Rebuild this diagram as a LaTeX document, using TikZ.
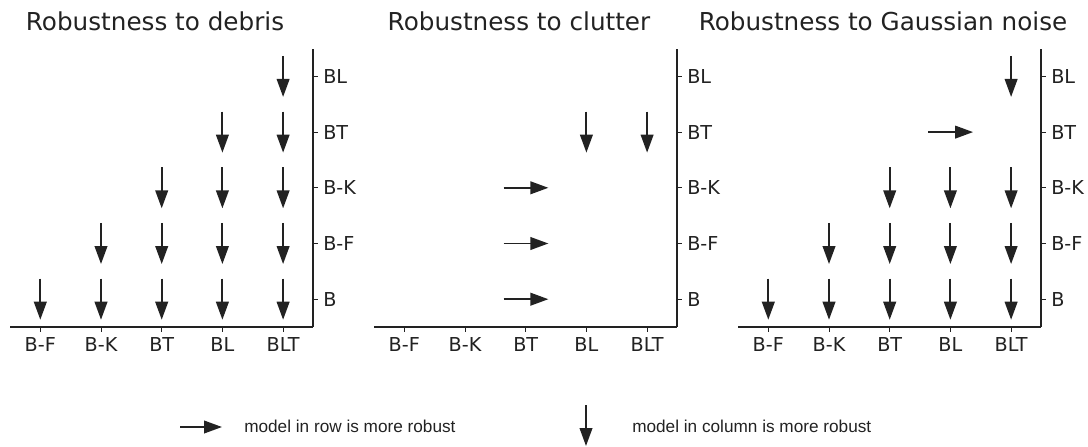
\documentclass[tikz,border=0pt]{standalone}
\usepackage{fontspec}
\setmainfont{DejaVu Sans}
\newfontfamily\legendfont{Liberation Sans}
\usetikzlibrary{arrows.meta}

\definecolor{ink}{RGB}{34,34,34}

\tikzset{
  spine/.style={draw=ink, line width=0.8pt},
  tickmark/.style={draw=ink, line width=0.7pt},
  ticklabel/.style={font=\fontsize{14.4}{17}\selectfont, text=ink, inner sep=0pt},
  paneltitle/.style={font=\fontsize{18.5}{22}\selectfont, text=ink, inner sep=0pt, anchor=base},
  legendtext/.style={font=\legendfont\fontsize{12.9}{15}\selectfont, text=ink, inner sep=0pt, anchor=base west},
  pref/.style={draw=ink, line width=1.4pt, -{Triangle[length=13.5pt,width=9.5pt]}},
}

\begin{document}
\begin{tikzpicture}[x=0.75pt, y=-0.75pt]
\useasboundingbox (0,0) rectangle (1088,446);

% panel frames: bottom axis, right axis, ticks and tick labels
\foreach \p/\ttl in {0/Robustness to debris, 1/Robustness to clutter, 2/Robustness to Gaussian noise} {
  \pgfmathsetmacro{\L}{10+364*\p}
  \pgfmathsetmacro{\R}{\L+303}
  \node[paneltitle] (title\p) at ({\L+145}, 31) {\ttl};
  \draw[spine] (\L,327) -- (\R,327);
  \draw[spine] (\R,49) -- (\R,327);
  \foreach \lab [count=\i from 0] in {B-F,B-K,BT,BL,BLT} {
    \pgfmathsetmacro{\cx}{\L+30.3+60.7*\i}
    \draw[tickmark] (\cx,327) -- (\cx,331.5);
    \node[ticklabel, anchor=base] (xl\p\i) at (\cx,351) {\lab};
  }
  \foreach \lab [count=\j from 0] in {B,B-F,B-K,BT,BL} {
    \pgfmathsetmacro{\ry}{299.2-55.7*\j}
    \draw[tickmark] (\R,\ry) -- ({\R+4.5},\ry);
    \node[ticklabel, anchor=base west] (yl\p\j) at ({\R+10},{\ry+7}) {\lab};
  }
}

% grid positions: column i, row j of panel p
\foreach \p in {0,1,2} {
  \foreach \i in {0,...,4} {
    \foreach \j in {0,...,4} {
      \coordinate (g\p-\i-\j) at ({10+364*\p+30.3+60.7*\i}, {299.2-55.7*\j});
    }
  }
}

% column model more robust (down arrows)
\foreach \p/\i/\j in {
  0/0/0, 0/1/0, 0/1/1, 0/2/0, 0/2/1, 0/2/2,
  0/3/0, 0/3/1, 0/3/2, 0/3/3, 0/4/0, 0/4/1, 0/4/2, 0/4/3, 0/4/4,
  1/3/3, 1/4/3,
  2/0/0, 2/1/0, 2/1/1, 2/2/0, 2/2/1, 2/2/2,
  2/3/0, 2/3/1, 2/3/2, 2/4/0, 2/4/1, 2/4/2, 2/4/4} {
  \draw[pref] ([yshift=15.4pt]g\p-\i-\j) -- ([yshift=-15.4pt]g\p-\i-\j);
}

% row model more robust (right arrows)
\foreach \p/\i/\j in {1/2/0, 1/2/1, 1/2/2, 2/3/3} {
  \draw[pref] ([xshift=-16.5pt]g\p-\i-\j) -- ([xshift=17pt]g\p-\i-\j);
}

% legend
\coordinate (lra) at (180,427);
\coordinate (lrb) at (222,427);
\draw[pref] (lra) -- (lrb);
\node[legendtext] (legrow) at (244,432) {model in row is more robust};
\coordinate (lda) at (586,405);
\coordinate (ldb) at (586,446);
\draw[pref] (lda) -- (ldb);
\node[legendtext] (legcol) at (632,432) {model in column is more robust};
\end{tikzpicture}
\end{document}
